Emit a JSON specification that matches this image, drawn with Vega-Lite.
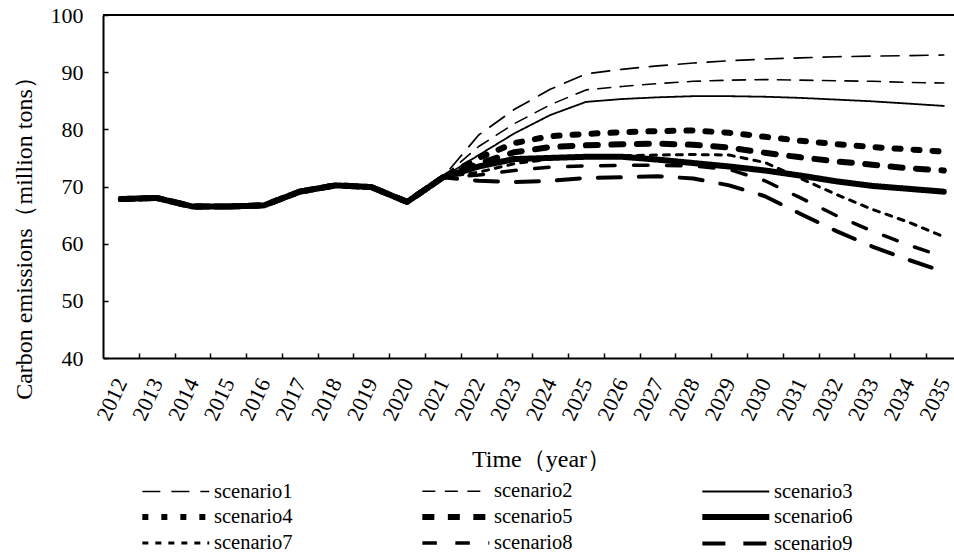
{
  "$schema": "https://vega.github.io/schema/vega-lite/v6.json",
  "width": 851,
  "height": 343,
  "autosize": {"type": "none"},
  "padding": {"left": 103, "top": 15, "right": 0, "bottom": 200},
  "background": "white",
  "config": {"view": {"stroke": null}, "font": "Liberation Serif"},
  "datasets": {
    "em": [
      {"year": 2012, "scenario1": 67.8, "scenario2": 67.8, "scenario3": 67.8, "scenario4": 67.8, "scenario5": 67.8, "scenario6": 67.8, "scenario7": 67.8, "scenario8": 67.8, "scenario9": 67.8},
      {"year": 2013, "scenario1": 68.0, "scenario2": 68.0, "scenario3": 68.0, "scenario4": 68.0, "scenario5": 68.0, "scenario6": 68.0, "scenario7": 68.0, "scenario8": 68.0, "scenario9": 68.0},
      {"year": 2014, "scenario1": 66.5, "scenario2": 66.5, "scenario3": 66.5, "scenario4": 66.5, "scenario5": 66.5, "scenario6": 66.5, "scenario7": 66.5, "scenario8": 66.5, "scenario9": 66.5},
      {"year": 2015, "scenario1": 66.5, "scenario2": 66.5, "scenario3": 66.5, "scenario4": 66.5, "scenario5": 66.5, "scenario6": 66.5, "scenario7": 66.5, "scenario8": 66.5, "scenario9": 66.5},
      {"year": 2016, "scenario1": 66.7, "scenario2": 66.7, "scenario3": 66.7, "scenario4": 66.7, "scenario5": 66.7, "scenario6": 66.7, "scenario7": 66.7, "scenario8": 66.7, "scenario9": 66.7},
      {"year": 2017, "scenario1": 69.1, "scenario2": 69.1, "scenario3": 69.1, "scenario4": 69.1, "scenario5": 69.1, "scenario6": 69.1, "scenario7": 69.1, "scenario8": 69.1, "scenario9": 69.1},
      {"year": 2018, "scenario1": 70.2, "scenario2": 70.2, "scenario3": 70.2, "scenario4": 70.2, "scenario5": 70.2, "scenario6": 70.2, "scenario7": 70.2, "scenario8": 70.2, "scenario9": 70.2},
      {"year": 2019, "scenario1": 69.9, "scenario2": 69.9, "scenario3": 69.9, "scenario4": 69.9, "scenario5": 69.9, "scenario6": 69.9, "scenario7": 69.9, "scenario8": 69.9, "scenario9": 69.9},
      {"year": 2020, "scenario1": 67.3, "scenario2": 67.3, "scenario3": 67.3, "scenario4": 67.3, "scenario5": 67.3, "scenario6": 67.3, "scenario7": 67.3, "scenario8": 67.3, "scenario9": 67.3},
      {"year": 2021, "scenario1": 71.6, "scenario2": 71.6, "scenario3": 71.6, "scenario4": 71.6, "scenario5": 71.6, "scenario6": 71.6, "scenario7": 71.6, "scenario8": 71.6, "scenario9": 71.6},
      {"year": 2022, "scenario1": 79.0, "scenario2": 77.0, "scenario3": 75.5, "scenario4": 75.0, "scenario5": 74.0, "scenario6": 73.5, "scenario7": 72.5, "scenario8": 72.0, "scenario9": 71.0},
      {"year": 2023, "scenario1": 83.5, "scenario2": 81.0, "scenario3": 79.3, "scenario4": 77.6, "scenario5": 76.0, "scenario6": 74.8, "scenario7": 74.0, "scenario8": 72.8, "scenario9": 70.8},
      {"year": 2024, "scenario1": 87.0, "scenario2": 84.3, "scenario3": 82.5, "scenario4": 78.8, "scenario5": 76.9, "scenario6": 75.0, "scenario7": 74.8, "scenario8": 73.4, "scenario9": 71.0},
      {"year": 2025, "scenario1": 89.7, "scenario2": 86.9, "scenario3": 84.8, "scenario4": 79.2, "scenario5": 77.2, "scenario6": 75.2, "scenario7": 75.2, "scenario8": 73.6, "scenario9": 71.5},
      {"year": 2026, "scenario1": 90.5, "scenario2": 87.5, "scenario3": 85.3, "scenario4": 79.5, "scenario5": 77.4, "scenario6": 75.2, "scenario7": 75.4, "scenario8": 73.7, "scenario9": 71.6},
      {"year": 2027, "scenario1": 91.1, "scenario2": 88.0, "scenario3": 85.6, "scenario4": 79.7, "scenario5": 77.5, "scenario6": 74.7, "scenario7": 75.5, "scenario8": 73.7, "scenario9": 71.8},
      {"year": 2028, "scenario1": 91.6, "scenario2": 88.4, "scenario3": 85.8, "scenario4": 79.8, "scenario5": 77.3, "scenario6": 74.1, "scenario7": 75.6, "scenario8": 73.6, "scenario9": 71.4},
      {"year": 2029, "scenario1": 92.0, "scenario2": 88.6, "scenario3": 85.8, "scenario4": 79.4, "scenario5": 76.8, "scenario6": 73.5, "scenario7": 75.5, "scenario8": 73.0, "scenario9": 70.2},
      {"year": 2030, "scenario1": 92.3, "scenario2": 88.7, "scenario3": 85.7, "scenario4": 78.7, "scenario5": 75.9, "scenario6": 72.8, "scenario7": 74.2, "scenario8": 71.0, "scenario9": 68.3},
      {"year": 2031, "scenario1": 92.5, "scenario2": 88.6, "scenario3": 85.5, "scenario4": 78.0, "scenario5": 75.1, "scenario6": 71.9, "scenario7": 71.4, "scenario8": 68.0, "scenario9": 65.2},
      {"year": 2032, "scenario1": 92.7, "scenario2": 88.5, "scenario3": 85.2, "scenario4": 77.4, "scenario5": 74.4, "scenario6": 70.9, "scenario7": 68.6, "scenario8": 64.9, "scenario9": 62.2},
      {"year": 2033, "scenario1": 92.8, "scenario2": 88.4, "scenario3": 84.9, "scenario4": 76.9, "scenario5": 73.8, "scenario6": 70.1, "scenario7": 66.0, "scenario8": 62.2, "scenario9": 59.5},
      {"year": 2034, "scenario1": 92.9, "scenario2": 88.2, "scenario3": 84.5, "scenario4": 76.5, "scenario5": 73.2, "scenario6": 69.6, "scenario7": 63.8, "scenario8": 59.8, "scenario9": 57.2},
      {"year": 2035, "scenario1": 93.0, "scenario2": 88.1, "scenario3": 84.1, "scenario4": 76.1, "scenario5": 72.8, "scenario6": 69.1, "scenario7": 61.2, "scenario8": 57.7, "scenario9": 55.1}
    ]
  },
  "layer": [
    {
      "data": {"name": "em"},
      "transform": [
        {"fold": ["scenario1", "scenario2", "scenario3", "scenario4", "scenario5", "scenario6", "scenario7", "scenario8", "scenario9"], "as": ["scenario", "value"]}
      ],
      "mark": {"type": "line", "color": "black", "strokeCap": "round", "strokeJoin": "round", "clip": true},
      "encoding": {
        "x": {
          "field": "year", "type": "quantitative",
          "scale": {"domain": [2011.5, 2035.285], "nice": false, "zero": false},
          "axis": {
            "values": [2012, 2013, 2014, 2015, 2016, 2017, 2018, 2019, 2020, 2021, 2022, 2023, 2024, 2025, 2026, 2027, 2028, 2029, 2030, 2031, 2032, 2033, 2034, 2035],
            "format": "d",
            "title": "Time（year）",
            "titleFont": "Liberation Serif", "titleFontSize": 24, "titleFontWeight": "normal", "titleColor": "black",
            "titleX": 438, "titleY": 108, "titleBaseline": "alphabetic", "titleAlign": "center", "titleAnchor": null,
            "labelFont": "Liberation Serif", "labelFontSize": 22, "labelColor": "black",
            "labelAngle": -65, "labelAlign": "right", "labelBaseline": "middle",
            "labelPadding": 26, "labelOffset": -17.9, "tickOffset": 17.89,
            "labelOverlap": false, "labelFlush": false, "labelBound": false,
            "tickSize": -5, "tickColor": "black", "tickWidth": 1.5,
            "domainColor": "black", "domainWidth": 2, "grid": false
          }
        },
        "y": {
          "field": "value", "type": "quantitative",
          "scale": {"domain": [40, 100], "nice": false, "zero": false},
          "axis": {
            "values": [40, 50, 60, 70, 80, 90, 100],
            "title": "Carbon emissions（million tons）",
            "titleFont": "Liberation Serif", "titleFontSize": 24, "titleFontWeight": "normal", "titleColor": "black",
            "titleX": -79, "titleY": 217, "titleAngle": -90, "titleBaseline": "middle", "titleAlign": "center", "titleAnchor": null,
            "labelFont": "Liberation Serif", "labelFontSize": 22, "labelColor": "black", "labelPadding": 25,
            "tickSize": -5, "tickColor": "black", "tickWidth": 1.5,
            "domainColor": "black", "domainWidth": 2, "grid": false
          }
        },
        "strokeDash": {
          "field": "scenario", "type": "nominal",
          "scale": {
            "domain": ["scenario1", "scenario2", "scenario3", "scenario4", "scenario5", "scenario6", "scenario7", "scenario8", "scenario9"],
            "range": [[18, 11], [13, 9.5], [1, 0], [6, 13], [12, 13.5], [1, 0], [6, 7], [14.5, 18.5], [23, 18]]
          },
          "legend": {
            "orient": "none", "legendX": 36, "legendY": 464, "columns": 3, "direction": "horizontal", "title": null,
            "symbolType": "M-1,0H5", "symbolSize": 498, "symbolStrokeColor": "black", "symbolFillColor": "transparent",
            "labelFont": "Liberation Serif", "labelFontSize": 20.5, "labelColor": "black", "labelOffset": 46, "labelLimit": 200,
            "columnPadding": 117, "rowPadding": 0.5, "padding": 0
          }
        },
        "strokeWidth": {
          "field": "scenario", "type": "nominal",
          "scale": {
            "type": "ordinal",
            "domain": ["scenario1", "scenario2", "scenario3", "scenario4", "scenario5", "scenario6", "scenario7", "scenario8", "scenario9"],
            "range": [1.7, 1.6, 1.8, 6, 6, 6, 3, 3.5, 4]
          }
        }
      }
    },
    {
      "data": {"values": [{}]},
      "mark": {"type": "rule", "color": "black", "strokeWidth": 2},
      "encoding": {"y": {"datum": 100}}
    }
  ]
}
